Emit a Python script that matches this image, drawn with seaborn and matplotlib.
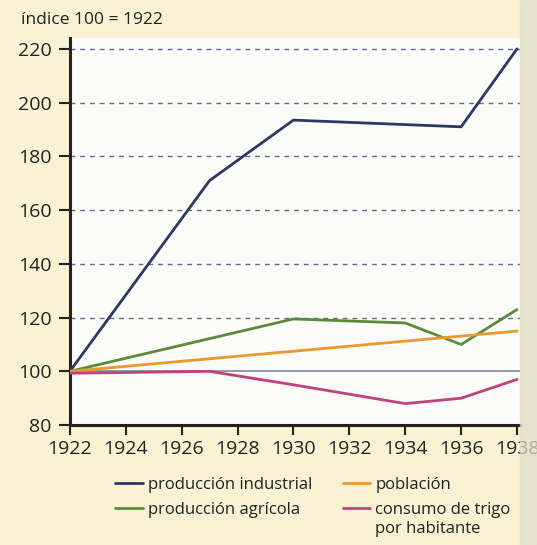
"""Índices 1922-1938: producción, población y consumo de trigo."""

import matplotlib
matplotlib.use("Agg")
import matplotlib.pyplot as plt
from matplotlib.patches import Rectangle
import pandas as pd
import seaborn as sns

# ---------------------------------------------------------------------------
# Data (index 100 = 1922)
# ---------------------------------------------------------------------------
years_industrial = [1922, 1927, 1930, 1936, 1938]
industrial = [100, 171, 193.5, 191, 220]

years_agricola = [1922, 1930, 1934, 1936, 1938]
agricola = [100, 119.5, 118, 110, 123]

years_poblacion = [1922, 1930, 1938]
poblacion = [100, 107.5, 115]

years_trigo = [1922, 1927, 1930, 1934, 1936, 1938]
trigo = [99.3, 100, 95, 88, 90, 97]

series_names = ["producción industrial", "producción agrícola",
                "población", "consumo de trigo"]
extra_line = "por habitante"
xticks = list(range(1922, 1939, 2))
yticks = list(range(80, 221, 20))

colors = {
    series_names[0]: "#2e3867",
    series_names[1]: "#5c8a3c",
    series_names[2]: "#e8982c",
    series_names[3]: "#c2427c",
}

frames = []
for name, xs, ys in zip(series_names,
                        [years_industrial, years_agricola, years_poblacion, years_trigo],
                        [industrial, agricola, poblacion, trigo]):
    frames.append(pd.DataFrame({"year": xs, "value": ys, "serie": name}))
df = pd.concat(frames, ignore_index=True)

# ---------------------------------------------------------------------------
# Figure
# ---------------------------------------------------------------------------
sns.set_theme(style="white")
plt.rcParams["font.family"] = ["Open Sans", "DejaVu Sans"]

fig = plt.figure(figsize=(5.37, 5.45), dpi=100, facecolor="#f8f1d2")
ax = fig.add_axes([0.130, 0.220, 0.838, 0.710])
ax.set_facecolor("#fbfbf8")

for y in yticks[2:]:
    ax.axhline(y, color="#5d6c92", lw=1.0, ls=(0, (3.5, 3.5)), zorder=1)
ax.axhline(100, color="#8a8ea6", lw=1.3, zorder=1)

sns.lineplot(data=df, x="year", y="value", hue="serie", hue_order=series_names,
             palette=colors, sort=False, estimator=None, lw=2.0, ax=ax,
             legend=False, zorder=3)

ax.set_xlim(1922, 1938.1)
ax.set_ylim(80, 224)
ax.set_xticks(xticks)
ax.set_yticks(yticks)
ax.set_xlabel("")
ax.set_ylabel("")
ax.tick_params(axis="both", labelsize=14, colors="#222222", width=1.5)
ax.tick_params(axis="x", length=7, pad=4, direction="out", bottom=True)
ax.tick_params(axis="y", length=8, pad=5, direction="out", left=True)

for side in ["top", "right"]:
    ax.spines[side].set_visible(False)
for side in ["left", "bottom"]:
    ax.spines[side].set_color("#222222")
    ax.spines[side].set_linewidth(2.2)

fig.text(21 / 537, 1 - 20 / 545, "índice 100 = 1922", fontsize=12.5,
         color="#222222", va="center", ha="left")

handles = [plt.Line2D([], [], color=colors[n], lw=2.0) for n in series_names]
leg = fig.legend(handles, series_names, loc="upper left", ncol=2, frameon=False,
                 bbox_to_anchor=(115 / 537, 1 - 477 / 545), fontsize=12,
                 handlelength=1.65, handletextpad=0.3, columnspacing=1.85,
                 labelspacing=0.52, borderaxespad=0, borderpad=0,
                 labelcolor="#222222")

# second line of the last legend entry, placed under its first line
fig.canvas.draw()
bb = leg.get_texts()[3].get_window_extent().transformed(fig.transFigure.inverted())
fig.text(bb.x0, bb.y0 - 3 / 545, extra_line, fontsize=12, color="#222222",
         ha="left", va="top")

# page gutter shadow on the right edge of the scan
fig.patches.append(Rectangle((0.968, 0), 0.032, 1, transform=fig.transFigure,
                             color="#e2ddc9", alpha=0.75, zorder=10))

fig.savefig("out.png", dpi=100, facecolor=fig.get_facecolor())
